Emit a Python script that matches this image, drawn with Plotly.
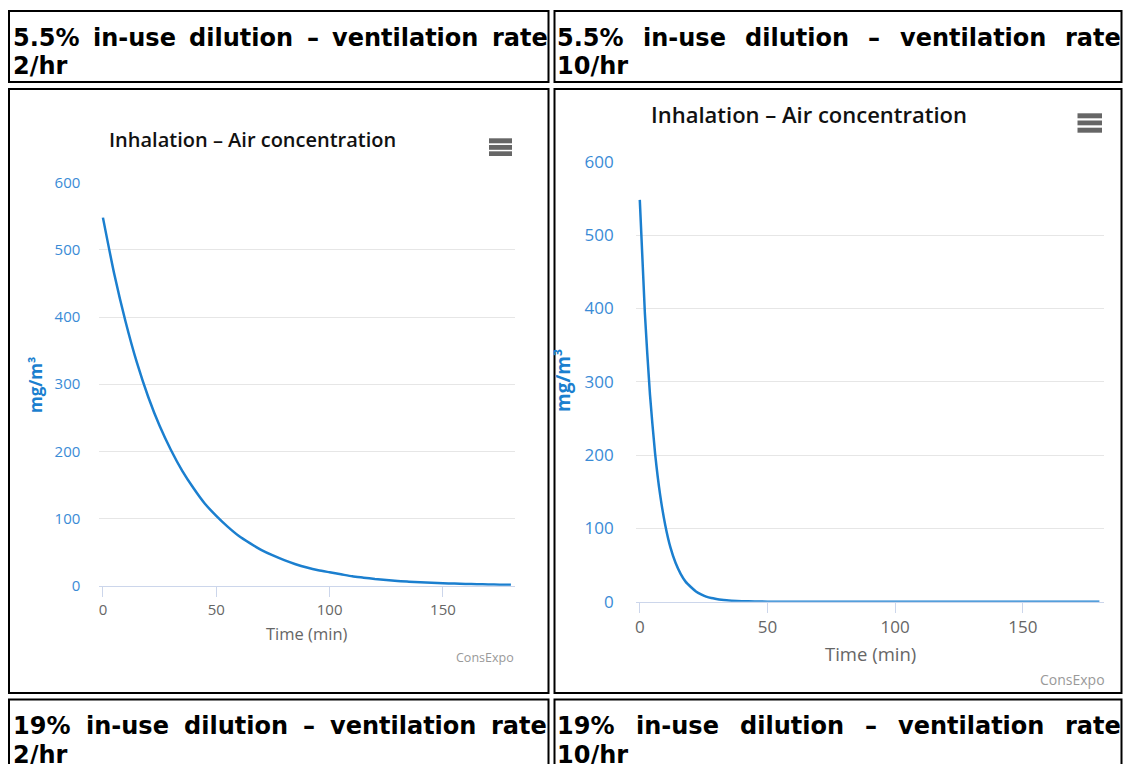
import plotly.graph_objects as go

# the page body margin is removed (see post_script), so figure pixels = window pixels
OX, OY = 0, 0
W, H = 1124, 764

# ---------------- data ----------------
time_vent2 = [0, 5, 10, 15, 20, 25, 30, 35, 40, 45, 50, 55, 60, 65, 70, 75, 80, 85, 90,
              95, 100, 105, 110, 115, 120, 125, 130, 135, 140, 145, 150, 155, 160, 165,
              170, 175, 180]
conc_vent2 = [548, 464, 393, 332, 281, 238, 202, 171, 145, 122, 104, 88, 74, 63, 53, 45,
              38, 32, 27, 23, 20, 17, 14, 12, 10, 8.5, 7, 6, 5, 4.3, 3.7, 3.1, 2.6, 2.2,
              1.9, 1.6, 1.4]

time_vent10 = [0, 2, 4, 6, 8, 10, 12, 14, 16, 18, 20, 22, 24, 26, 28, 30, 32, 34, 36, 40,
               45, 50, 60, 80, 100, 120, 140, 160, 180]
conc_vent10 = [548, 393, 282, 202, 145, 104, 74, 53, 38, 27, 20, 14, 10, 7, 5, 3.7, 2.6,
               1.9, 1.4, 0.7, 0.3, 0.1, 0, 0, 0, 0, 0, 0, 0]

x_ticks = [0, 50, 100, 150]
y_ticks = [0, 100, 200, 300, 400, 500, 600]

chart_title = "Inhalation – Air concentration"
y_title = "mg/m³"
x_title = "Time (min)"
credits = "ConsExpo"

header_top_left = ["5.5%", "in-use", "dilution", "–", "ventilation", "rate"]
header_top_left2 = "2/hr"
header_top_right = ["5.5%", "in-use", "dilution", "–", "ventilation", "rate"]
header_top_right2 = "10/hr"
header_bot_left = ["19%", "in-use", "dilution", "–", "ventilation", "rate"]
header_bot_left2 = "2/hr"
header_bot_right = ["19%", "in-use", "dilution", "–", "ventilation", "rate"]
header_bot_right2 = "10/hr"

# ---------------- helpers ----------------
def fx(x):
    return (x - OX) / W

def fy(y):
    return 1 - (y - OY) / H

LINE = "#1b7fcf"
TICKBLUE = "#3a8bd6"
GRAY = "#666666"
HFONT = "DejaVu Sans"
CFONT = "Open Sans"

# DejaVu Sans Bold advance widths (em) used to justify the header words
ADV = {" ": .348, "%": 1.002, ".": .380, "/": .365, "-": .415, "–": .5,
       "a": .675, "d": .716, "e": .678, "h": .712, "i": .343, "l": .343, "n": .712,
       "o": .687, "r": .493, "s": .595, "t": .478, "u": .712, "v": .652}

def text_w(s, size):
    return sum(ADV.get(c, .696) for c in s) * size

fig = go.Figure()

fig.add_trace(go.Scatter(x=time_vent2, y=conc_vent2, mode="lines",
                         line=dict(color=LINE, width=2.5, shape="spline", smoothing=0.6),
                         xaxis="x", yaxis="y", hoverinfo="skip", showlegend=False))
fig.add_trace(go.Scatter(x=time_vent10, y=conc_vent10, mode="lines",
                         line=dict(color=LINE, width=2.5, shape="spline", smoothing=0.6),
                         xaxis="x2", yaxis="y2", hoverinfo="skip", showlegend=False))

def xaxis_cfg(x0, x1, fs, anchor):
    return dict(domain=[fx(x0), fx(x1)], range=[-1.6, 181.8], tickvals=x_ticks,
                ticks="outside", ticklen=10, tickcolor="#ccd6eb", tickwidth=1,
                showline=True, linecolor="#ccd6eb", linewidth=1, showgrid=False,
                zeroline=False, automargin=False, anchor=anchor,
                tickfont=dict(family=CFONT, size=fs, color=GRAY), fixedrange=True)

def yaxis_cfg(y_top, y_bot, fs, anchor, standoff):
    return dict(domain=[fy(y_bot), fy(y_top)], range=[0, 600], tickvals=y_ticks,
                showgrid=True, gridcolor="#e6e6e6", gridwidth=1, zeroline=False,
                showline=False, ticks="", ticklabelstandoff=standoff, automargin=False,
                tickfont=dict(family=CFONT, size=fs, color=TICKBLUE), anchor=anchor,
                fixedrange=True)

annotations = []
shapes = []

def ann(text, x, y, size, color="#000", family=CFONT, weight="normal",
        xanchor="center", yanchor="middle", angle=0):
    annotations.append(dict(text=text, x=fx(x), y=fy(y), xref="paper", yref="paper",
                            showarrow=False, xanchor=xanchor, yanchor=yanchor,
                            textangle=angle, borderpad=0,
                            font=dict(family=family, size=size, color=color, weight=weight)))

def header(words, left, right, y, line2, y2, size=24):
    widths = [text_w(w, size) for w in words]
    gap = (right - left - sum(widths)) / (len(words) - 1)
    x = left
    for w, wd in zip(words, widths):
        ann(w, x, y, size, family=HFONT, weight="bold", xanchor="left")
        x += wd + gap
    ann(line2, left, y2, size, family=HFONT, weight="bold", xanchor="left")

# table cells
for (x0, y0, x1, y1) in [(9, 11, 548.5, 82), (554.5, 11, 1121.5, 82),
                         (9, 89, 548.5, 693), (554.5, 89, 1121.5, 693),
                         (9, 699.5, 548.5, 790), (554.5, 699.5, 1121.5, 790)]:
    shapes.append(dict(type="rect", xref="paper", yref="paper",
                       x0=fx(x0), x1=fx(x1), y0=fy(y1), y1=fy(y0),
                       line=dict(color="#000", width=2), fillcolor="rgba(0,0,0,0)"))

header(header_top_left, 12, 547, 38, header_top_left2, 66)
header(header_top_right, 556, 1120, 38, header_top_right2, 66)
header(header_bot_left, 12, 546, 726, header_bot_left2, 755)
header(header_bot_right, 556, 1120, 726, header_bot_right2, 755)

# chart texts
ann(chart_title, 252, 139, 20, color="#111", weight=600)
ann(chart_title, 809, 114, 22, color="#111", weight=600)
ann(y_title, 35, 385, 17, color=LINE, weight="bold", angle=-90)
ann(y_title, 563, 381, 19, color=LINE, weight="bold", angle=-90)
ann(x_title, 307, 633, 16.5, color=GRAY)
ann(x_title, 870, 653, 18.5, color=GRAY)
ann(credits, 515, 657, 12.5, color="#999999", xanchor="right")
ann(credits, 1106, 679, 14, color="#999999", xanchor="right")

# hamburger menu icons
for (x0, x1, bars) in [(489, 512, [(138.3, 143.3), (145, 149.8), (151.3, 156)]),
                       (1077.5, 1102, [(113.3, 118.3), (120.5, 125.3), (127.7, 132.7)])]:
    for (b0, b1) in bars:
        shapes.append(dict(type="rect", xref="paper", yref="paper",
                           x0=fx(x0), x1=fx(x1), y0=fy(b1), y1=fy(b0),
                           line=dict(width=0), fillcolor="#666666"))

fig.update_layout(
    width=W, height=H, margin=dict(l=0, r=0, t=0, b=0),
    paper_bgcolor="white", plot_bgcolor="white", template="none",
    xaxis=xaxis_cfg(99.3, 515, 15, "y"), yaxis=yaxis_cfg(182.7, 585.7, 15, "x", 18),
    xaxis2=xaxis_cfg(635.7, 1104, 17, "y2"), yaxis2=yaxis_cfg(161.7, 601.7, 17, "x2", 21),
    annotations=annotations, shapes=shapes, showlegend=False, hovermode=False,
)

fig.write_html(
    "out.html",
    config={"displayModeBar": False},
    post_script="document.body.style.margin='0';"
                "document.documentElement.style.overflow='hidden';"
                "document.body.style.overflow='hidden';",
)
